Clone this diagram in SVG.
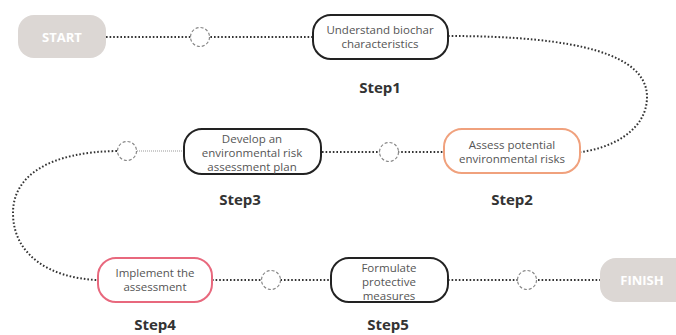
<svg xmlns="http://www.w3.org/2000/svg" width="676" height="335" viewBox="0 0 676 335">
<style>
.bg{fill:#ffffff}
.term{fill:#dcd7d4}
.termtxt{font-family:"Open Sans","Liberation Sans",sans-serif;font-weight:bold;font-size:13px;fill:#ffffff;text-anchor:middle}
.node{fill:#ffffff;stroke:#222222;stroke-width:2}
.orange{stroke:#f0a17d}
.pink{stroke:#e8687d}
.txt{font-family:"Open Sans","Liberation Sans",sans-serif;font-size:11.5px;fill:#555555;text-anchor:middle}
.step{font-family:"Open Sans","Liberation Sans",sans-serif;font-weight:bold;font-size:15px;fill:#333333;text-anchor:middle}
.dot{fill:none;stroke:#333333;stroke-width:2;stroke-dasharray:1.6 2}
.thin{fill:none;stroke:#999999;stroke-width:1;stroke-dasharray:1 1}
.ring{fill:#ffffff;stroke:#888888;stroke-width:1.2;stroke-dasharray:3 2}
</style>
<rect class="bg" x="0" y="0" width="676" height="335"/>
<g id="connectors">
<path class="dot" d="M106,37 H312"/>
<path class="dot" d="M448,36 C580,36 647,55 647,97 C647,130 612,148 581,152"/>
<path class="dot" d="M322,152 H444"/>
<path class="thin" d="M137,151 H183"/>
<path class="dot" d="M117,151 C50,152 13,175 13,213 C13,255 50,278 97,280"/>
<path class="dot" d="M212,280 H330"/>
<path class="dot" d="M448,280 H600"/>
<circle class="ring" cx="200" cy="37" r="9.5"/>
<circle class="ring" cx="389" cy="152" r="9.5"/>
<circle class="ring" cx="127" cy="151" r="9.5"/>
<circle class="ring" cx="271" cy="280" r="9.5"/>
<circle class="ring" cx="527" cy="280" r="9.5"/>
</g>
<g id="start">
<rect class="term" x="18" y="15" width="88" height="43" rx="16"/>
<text class="termtxt" x="62" y="42">START</text>
</g>
<g id="step1">
<rect class="node" x="313" y="15" width="135" height="44" rx="18"/>
<text class="txt" x="380" y="34">Understand biochar</text>
<text class="txt" x="380" y="48">characteristics</text>
<text class="step" x="380" y="93">Step1</text>
</g>
<g id="step2">
<rect class="node orange" x="444" y="129" width="136" height="44" rx="18"/>
<text class="txt" x="512" y="149">Assess potential</text>
<text class="txt" x="512" y="163">environmental risks</text>
<text class="step" x="512" y="205">Step2</text>
</g>
<g id="step3">
<rect class="node" x="184" y="129" width="137" height="45" rx="18"/>
<text class="txt" x="252" y="143">Develop an</text>
<text class="txt" x="252" y="157">environmental risk</text>
<text class="txt" x="252" y="171">assessment plan</text>
<text class="step" x="240" y="205">Step3</text>
</g>
<g id="step4">
<rect class="node pink" x="98" y="258" width="114" height="44" rx="18"/>
<text class="txt" x="155" y="277">Implement the</text>
<text class="txt" x="155" y="291">assessment</text>
<text class="step" x="155" y="330">Step4</text>
</g>
<g id="step5">
<rect class="node" x="331" y="258" width="117" height="44" rx="18"/>
<text class="txt" x="389" y="272">Formulate</text>
<text class="txt" x="389" y="286">protective</text>
<text class="txt" x="389" y="300">measures</text>
<text class="step" x="388" y="330">Step5</text>
</g>
<g id="finish">
<rect class="term" x="600" y="258" width="96" height="44" rx="16"/>
<text class="termtxt" x="642" y="285">FINISH</text>
</g>
</svg>
